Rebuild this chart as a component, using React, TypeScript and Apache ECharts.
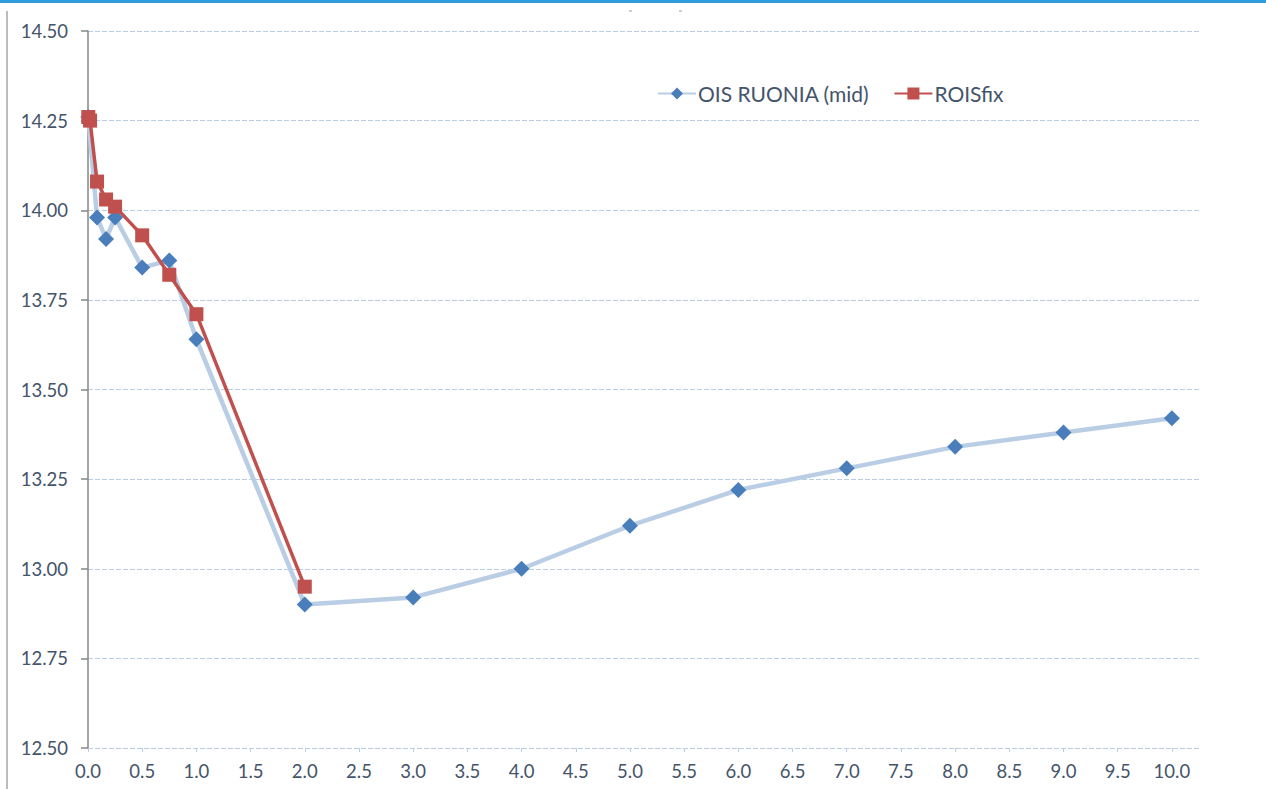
import React, { useEffect, useRef } from "react";
import * as echarts from "echarts";

const oisX = [1 / 365, 1 / 12, 2 / 12, 3 / 12, 0.5, 0.75, 1, 2, 3, 4, 5, 6, 7, 8, 9, 10];
const oisY = [14.26, 13.98, 13.92, 13.98, 13.84, 13.86, 13.64, 12.9, 12.92, 13.0, 13.12, 13.22, 13.28, 13.34, 13.38, 13.42];

const roisX = [1 / 365, 7 / 365, 1 / 12, 2 / 12, 3 / 12, 0.5, 0.75, 1, 2];
const roisY = [14.26, 14.25, 14.08, 14.03, 14.01, 13.93, 13.82, 13.71, 12.95];

const xTicks = [0, 0.5, 1, 1.5, 2, 2.5, 3, 3.5, 4, 4.5, 5, 5.5, 6, 6.5, 7, 7.5, 8, 8.5, 9, 9.5, 10];

const FONT = "Lato";
const TEXT = "#44546A";

export default function App() {
  const ref = useRef<HTMLDivElement>(null);
  useEffect(() => {
    if (!ref.current) return;
    const chart = echarts.init(ref.current, null, { renderer: "svg" });
    chart.setOption({
      animation: false,
      textStyle: { fontFamily: FONT },
      grid: { left: 88, right: 67, top: 31, bottom: 41, containLabel: false },
      graphic: [
        { type: "rect", shape: { x: 0, y: 0, width: 1266, height: 3 }, style: { fill: "#2E9BDB" } },
        { type: "line", shape: { x1: 7, y1: 11, x2: 7, y2: 789 }, style: { stroke: "#A6A6A6", lineWidth: 1.5 } },
        { type: "line", shape: { x1: 629, y1: 11, x2: 632, y2: 11 }, style: { stroke: "#9E9E9E", lineWidth: 1 } },
        { type: "line", shape: { x1: 679, y1: 11, x2: 682, y2: 11 }, style: { stroke: "#9E9E9E", lineWidth: 1 } },
      ],
      legend: {
        left: 652,
        top: 78,
        itemWidth: 38,
        itemHeight: 15,
        itemGap: 24,
        textStyle: { fontFamily: FONT, fontSize: 21, color: TEXT, padding: [0, 0, 0, -3] },
        data: ["OIS RUONIA (mid)", "ROISfix"],
      },
      xAxis: {
        type: "value",
        min: 0,
        max: 10.25,
        interval: 0.5,
        axisLine: { show: false },
        splitLine: { show: false },
        axisTick: {
          show: true,
          customValues: xTicks,
          length: 4,
          lineStyle: { color: "#B9CDE5", width: 1 },
        },
        axisLabel: {
          customValues: xTicks,
          formatter: (v: number) => v.toFixed(1),
          color: TEXT,
          fontFamily: FONT,
          fontSize: 18.5,
          margin: 13,
        },
      },
      yAxis: {
        type: "value",
        min: 12.5,
        max: 14.5,
        interval: 0.25,
        axisLine: { show: true, lineStyle: { color: "#868686", width: 1.5 } },
        axisTick: { show: true, length: 7, lineStyle: { color: "#868686", width: 1.5 } },
        splitLine: { show: true, lineStyle: { color: "#B9CDE5", width: 1, type: [5, 2] } },
        axisLabel: {
          formatter: (v: number) => v.toFixed(2),
          color: TEXT,
          fontFamily: FONT,
          fontSize: 18.5,
          margin: 20,
        },
      },
      series: [
        {
          name: "OIS RUONIA (mid)",
          type: "line",
          data: oisX.map((x, i) => [x, oisY[i]]),
          symbol: "diamond",
          symbolSize: 16,
          itemStyle: { color: "#4A7EBB" },
          lineStyle: { color: "#B9CDE5", width: 4.5 },
          z: 2,
        },
        {
          name: "ROISfix",
          type: "line",
          data: roisX.map((x, i) => [x, roisY[i]]),
          symbol: "rect",
          symbolSize: 14,
          itemStyle: { color: "#C0504D" },
          lineStyle: { color: "#C0504D", width: 3.5 },
          z: 3,
        },
      ],
    });
    return () => chart.dispose();
  }, []);
  return (
    <div
      ref={ref}
      style={{ position: "fixed", left: 0, top: 0, width: 1266, height: 789, background: "#fff" }}
    />
  );
}
